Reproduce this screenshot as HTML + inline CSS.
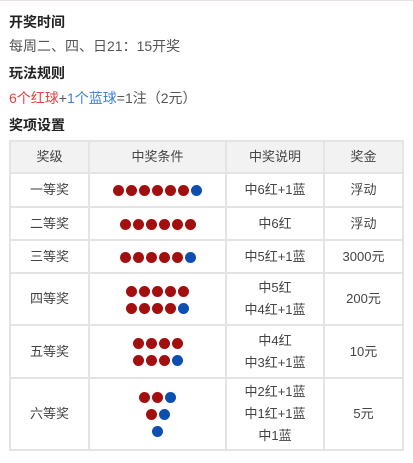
<!DOCTYPE html>
<html><head><meta charset="utf-8"><style>
body{margin:0;width:413px;height:463px;background:#fff;position:relative;overflow:hidden;font-family:"Liberation Sans","Noto Sans CJK SC",sans-serif;color:#333}
.a{position:absolute;white-space:nowrap}
.h{font-weight:bold;font-size:14px;color:#222}
.t{font-size:14px;color:#555}
table{position:absolute;left:9px;top:140px;border-collapse:collapse;font-size:13px;color:#444}
td,th{border:2px solid #e4e4e4;text-align:center;padding:0;line-height:22px}
th{background:#f2f2f2;font-weight:normal;height:30px}
.b{display:inline-block;width:11px;height:11px;border-radius:50%;margin:0 1px;vertical-align:middle}
.r{background:#a30f0f}.u{background:#0d4fb0}
.row{height:14px;line-height:14px;margin:3px 0}
</style></head><body>
<div class="a" style="left:0;top:0;width:413px;height:1px;background:#e8e0e0"></div>
<div class="a h" style="left:9px;top:12px">开奖时间</div>
<div class="a t" style="left:9px;top:36px">每周二、四、日21：15开奖</div>
<div class="a h" style="left:9px;top:63px">玩法规则</div>
<div class="a t" style="left:9px;top:88px"><span style="color:#e84040">6个红球</span>+<span style="color:#3a7fe0">1个蓝球</span>=1注（2元）</div>
<div class="a h" style="left:9px;top:115px">奖项设置</div>
<table>
<tr><th style="width:77px">奖级</th><th style="width:135px">中奖条件</th><th style="width:96px">中奖说明</th><th style="width:77px">奖金</th></tr>
<tr style="height:34px"><td>一等奖</td><td><span class="b r"></span><span class="b r"></span><span class="b r"></span><span class="b r"></span><span class="b r"></span><span class="b r"></span><span class="b u"></span></td><td>中6红+1蓝</td><td>浮动</td></tr>
<tr style="height:33px"><td>二等奖</td><td><span class="b r"></span><span class="b r"></span><span class="b r"></span><span class="b r"></span><span class="b r"></span><span class="b r"></span></td><td>中6红</td><td>浮动</td></tr>
<tr style="height:33px"><td>三等奖</td><td><span class="b r"></span><span class="b r"></span><span class="b r"></span><span class="b r"></span><span class="b r"></span><span class="b u"></span></td><td>中5红+1蓝</td><td>3000元</td></tr>
<tr style="height:52px"><td>四等奖</td><td><div class="row"><span class="b r"></span><span class="b r"></span><span class="b r"></span><span class="b r"></span><span class="b r"></span></div><div class="row"><span class="b r"></span><span class="b r"></span><span class="b r"></span><span class="b r"></span><span class="b u"></span></div></td><td>中5红<br>中4红+1蓝</td><td>200元</td></tr>
<tr style="height:53px"><td>五等奖</td><td><div class="row"><span class="b r"></span><span class="b r"></span><span class="b r"></span><span class="b r"></span></div><div class="row"><span class="b r"></span><span class="b r"></span><span class="b r"></span><span class="b u"></span></div></td><td>中4红<br>中3红+1蓝</td><td>10元</td></tr>
<tr style="height:72px"><td>六等奖</td><td><div class="row"><span class="b r"></span><span class="b r"></span><span class="b u"></span></div><div class="row"><span class="b r"></span><span class="b u"></span></div><div class="row"><span class="b u"></span></div></td><td>中2红+1蓝<br>中1红+1蓝<br>中1蓝</td><td>5元</td></tr>
</table>
</body></html>
